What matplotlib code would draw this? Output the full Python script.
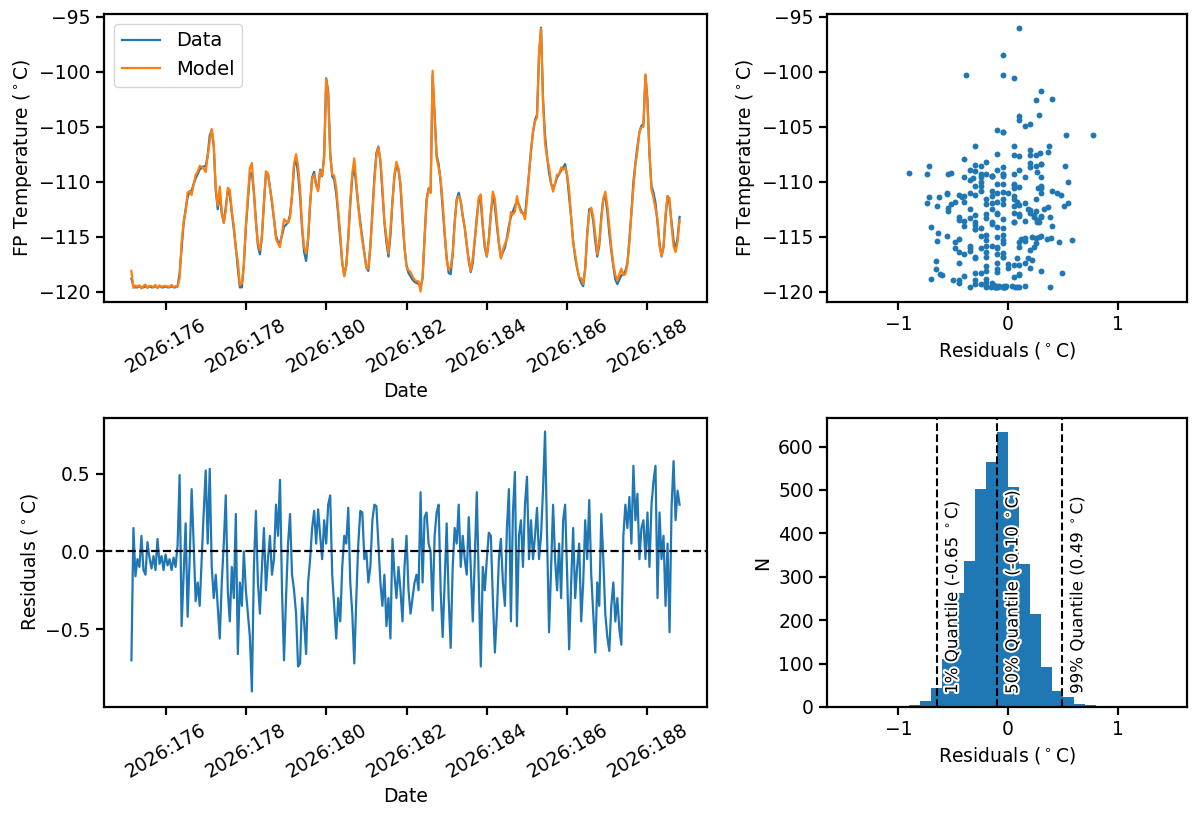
import matplotlib
matplotlib.use("Agg")
import matplotlib.pyplot as plt
import matplotlib.patheffects as pe
from matplotlib.ticker import FuncFormatter
import numpy as np

# focal plane temperature (deg C), sampled every 0.05 day starting at 2026:175.15
t_start = 175.15
t_step = 0.05
fp_temp = [
    -118.8, -119.5, -119.6, -119.6, -119.5, -119.6, -119.6, -119.5, -119.6, -119.5, -119.6, -119.6, -119.5, -119.6, -119.5, -119.6, -119.6,
    -119.5, -119.6, -119.6, -119.5, -119.6, -119.6, -119.5, -118.3, -116.0, -113.8, -112.5, -111.4, -110.9, -110.8, -110.2, -109.7, -109.3, -108.9, -108.7, -108.6,
    -108.6, -107.6, -105.8, -105.3, -106.8, -110.8, -112.5, -111.0, -112.9, -113.7, -112.3, -110.8, -111.2, -112.8, -114.3, -115.9, -117.9, -119.6, -119.6, -117.5,
    -114.2, -111.8, -109.3, -109.2, -111.0, -113.5, -115.8, -116.6, -115.0, -111.9, -109.3, -109.3, -110.5, -111.9, -113.4, -114.9, -115.5, -115.5, -114.9, -114.1,
    -113.9, -113.7, -113.0, -111.3, -108.6, -107.9, -109.3, -111.4, -114.3, -116.4, -117.2, -115.3, -112.0, -109.6, -109.1, -110.3, -110.6, -108.9, -109.5, -107.6,
    -100.6, -101.8, -107.3, -109.5, -109.8, -111.1, -113.0, -115.2, -117.4, -118.5, -117.6, -115.0, -112.0, -109.6, -108.6, -110.4, -112.2, -113.7, -115.1, -116.5,
    -117.8, -118.1, -115.9, -112.8, -109.6, -107.4, -106.8, -108.2, -111.0, -113.7, -115.5, -116.8, -114.9, -111.8, -109.5, -108.5, -108.9, -110.4, -113.5, -116.0,
    -117.6, -118.3, -118.6, -118.9, -119.1, -119.2, -119.3, -119.6, -118.8, -115.0, -111.6, -110.6, -111.0, -100.3, -104.0, -107.6, -108.4, -110.0, -112.4, -114.8,
    -116.9, -118.3, -118.4, -116.6, -113.6, -111.6, -111.0, -111.8, -113.1, -114.2, -115.8, -117.1, -118.2, -117.4, -115.3, -113.2, -111.6, -111.9, -114.1, -116.0,
    -116.8, -115.2, -112.9, -111.2, -112.2, -114.0, -115.6, -116.9, -116.4, -116.0, -115.1, -114.0, -113.2, -112.7, -112.2, -111.8, -112.1, -112.6, -112.9, -113.1,
    -111.2, -109.3, -107.1, -105.5, -104.4, -103.9, -98.5, -96.0, -102.5, -105.8, -107.7, -109.2, -110.2, -110.6, -110.2, -109.6, -109.3, -109.0, -108.7, -108.4,
    -109.5, -111.4, -113.3, -115.4, -116.9, -117.9, -118.7, -119.2, -119.5, -117.8, -114.8, -112.5, -112.5, -113.6, -115.4, -116.8, -115.8, -113.2, -111.6, -111.3,
    -112.7, -114.7, -116.3, -117.7, -118.9, -119.3, -118.9, -118.5, -118.4, -118.1, -117.4, -115.2, -112.8, -110.0, -108.3, -106.8, -105.5, -104.9, -104.8, -100.3,
    -102.6, -107.5, -110.4, -111.0, -111.9, -113.7, -115.6, -116.8, -115.9, -113.3, -111.3, -112.0, -113.7, -115.3, -116.2, -115.1, -113.2,
]

# data - model residuals (deg C) on the same time grid
resid = [
    -0.70, 0.15, -0.16, -0.05, -0.10, 0.10, -0.12, -0.15, 0.06, -0.04, -0.11, -0.03, -0.12, 0.08, -0.08, -0.03, -0.12,
    -0.02, -0.09, -0.05, -0.12, -0.04, -0.10, 0.04, 0.49, -0.48, -0.15, 0.18, -0.42, -0.05, 0.40, 0.05, -0.32, -0.20, -0.35, -0.05, 0.25,
    0.52, 0.05, 0.53, -0.10, -0.30, -0.15, -0.35, -0.56, -0.20, 0.05, 0.36, -0.25, -0.45, -0.10, -0.30, 0.24, -0.66, -0.20, -0.35, 0.00,
    -0.25, -0.40, -0.55, -0.90, -0.10, 0.26, -0.20, -0.40, -0.10, 0.15, -0.25, -0.05, 0.10, -0.15, -0.05, 0.30, 0.10, 0.46, -0.25, -0.70,
    -0.30, 0.05, 0.24, -0.15, -0.25, -0.40, -0.74, -0.72, -0.30, -0.45, -0.66, -0.20, -0.05, 0.15, 0.26, 0.05, 0.27, 0.10, -0.05, 0.20,
    0.05, 0.30, 0.36, -0.15, -0.35, -0.56, -0.30, -0.45, -0.10, 0.10, 0.05, 0.28, -0.20, -0.40, -0.72, -0.30, 0.05, 0.26, 0.25, -0.05,
    0.00, -0.20, -0.10, 0.20, 0.30, 0.29, 0.05, -0.20, -0.35, -0.15, -0.48, -0.30, -0.56, 0.08, -0.15, -0.30, -0.10, -0.25, -0.45, -0.10,
    0.10, -0.25, -0.40, -0.30, -0.20, -0.15, -0.25, 0.38, -0.20, 0.22, 0.25, 0.05, 0.00, -0.38, 0.10, 0.25, 0.30, -0.25, -0.55, -0.20,
    0.18, -0.30, -0.62, -0.10, 0.15, 0.05, 0.30, -0.10, 0.10, -0.05, -0.15, 0.22, -0.10, -0.45, -0.05, 0.38, -0.20, -0.74, -0.10, -0.25,
    -0.05, 0.12, 0.10, -0.30, -0.65, -0.40, -0.05, 0.08, -0.20, -0.35, 0.15, 0.40, -0.45, 0.25, 0.51, -0.48, 0.10, 0.20, -0.10, 0.30,
    0.48, -0.05, 0.20, -0.05, 0.10, 0.28, -0.05, 0.10, 0.40, 0.77, 0.10, -0.52, -0.10, 0.30, -0.05, -0.25, 0.05, -0.30, 0.20, 0.30,
    -0.15, -0.63, -0.20, 0.15, -0.30, -0.10, 0.05, -0.45, -0.20, 0.20, -0.05, 0.33, -0.15, -0.40, -0.65, -0.20, -0.35, 0.24, -0.05, -0.40,
    -0.55, -0.64, -0.35, -0.20, -0.45, -0.30, -0.50, -0.60, 0.10, 0.30, 0.15, 0.35, 0.05, 0.55, 0.20, 0.37, -0.05, 0.15, 0.20, -0.05,
    0.25, -0.10, 0.30, 0.45, 0.55, -0.30, 0.25, -0.05, 0.10, -0.35, 0.05, -0.52, 0.28, 0.58, 0.20, 0.39, 0.30,
]

# residual histogram as drawn (bin width 0.1 starting at -0.9)
hist_left = -0.90
hist_width = 0.10
hist_counts = [4, 14, 44, 110, 262, 337, 502, 565, 634, 506, 329, 214, 92, 36, 22, 7, 5]

quantile_pct = ["1%", "50%", "99%"]
quantile_val = [-0.65, -0.10, 0.49]

fp_temp = np.array(fp_temp)
resid = np.array(resid)
days = t_start + t_step * np.arange(len(fp_temp))
model = fp_temp - resid

plt.rcParams["font.size"] = 13.5
plt.rcParams["axes.linewidth"] = 1.6
plt.rcParams["xtick.major.width"] = 1.6
plt.rcParams["ytick.major.width"] = 1.6
plt.rcParams["xtick.major.size"] = 6
plt.rcParams["ytick.major.size"] = 6

fig = plt.figure(figsize=(11.98, 8.16), dpi=100)
W, H = 1198, 816
ax_ts = fig.add_axes([104 / W, 1 - 302 / H, 603 / W, 288 / H])
ax_sc = fig.add_axes([827 / W, 1 - 302 / H, 360 / W, 288 / H])
ax_rs = fig.add_axes([104 / W, 1 - 707 / H, 603 / W, 289 / H])
ax_hs = fig.add_axes([827 / W, 1 - 707 / H, 360 / W, 289 / H])

date_fmt = FuncFormatter(lambda v, p: f"2026:{v:.0f}")
temp_lim = (-120.93, -94.76)
res_xlim = (-1.65, 1.63)

# temperature time series
ax_ts.plot(days, fp_temp, color="C0", lw=1.6, label="Data")
ax_ts.plot(days, model, color="C1", lw=1.6, label="Model")
ax_ts.set_ylim(temp_lim)
ax_ts.set_yticks(np.arange(-120, -94, 5))
ax_ts.set_xticks(np.arange(176, 189, 2))
ax_ts.xaxis.set_major_formatter(date_fmt)
ax_ts.tick_params(axis="x", labelrotation=30)
ax_ts.set_xlabel("Date")
ax_ts.set_ylabel("FP Temperature ($^\\circ$C)")
ax_ts.legend(loc="upper left", fontsize=14)

# residuals vs temperature
ax_sc.scatter(resid, fp_temp, s=18, color="C0", lw=0)
ax_sc.set_xlim(res_xlim)
ax_sc.set_ylim(temp_lim)
ax_sc.set_yticks(np.arange(-120, -94, 5))
ax_sc.set_xticks([-1, 0, 1])
ax_sc.set_xlabel("Residuals ($^\\circ$C)")
ax_sc.set_ylabel("FP Temperature ($^\\circ$C)")

# residual time series
ax_rs.plot(days, resid, color="C0", lw=1.6)
ax_rs.axhline(0, color="k", ls="--", lw=1.6)
ax_rs.set_ylim(-1.0, 0.857)
ax_rs.set_yticks([-0.5, 0.0, 0.5])
ax_rs.set_xlim(ax_ts.get_xlim())
ax_rs.set_xticks(np.arange(176, 189, 2))
ax_rs.xaxis.set_major_formatter(date_fmt)
ax_rs.tick_params(axis="x", labelrotation=30)
ax_rs.set_xlabel("Date")
ax_rs.set_ylabel("Residuals ($^\\circ$C)")

# residual histogram
edges = hist_left + hist_width * np.arange(len(hist_counts))
ax_hs.bar(edges, hist_counts, width=hist_width, align="edge", color="C0")
for pct, q in zip(quantile_pct, quantile_val):
    ax_hs.axvline(q, color="k", ls="--", lw=1.5)
    ax_hs.text(q + 0.04, 30, f"{pct} Quantile ({q:.2f} $^\\circ$C)", rotation=90,
               ha="left", va="bottom", fontsize=12,
               path_effects=[pe.withStroke(linewidth=3, foreground="white")])
ax_hs.set_xlim(res_xlim)
ax_hs.set_xticks([-1, 0, 1])
ax_hs.set_xlabel("Residuals ($^\\circ$C)")
ax_hs.set_ylabel("N")

plt.savefig("out.png", dpi=100)
